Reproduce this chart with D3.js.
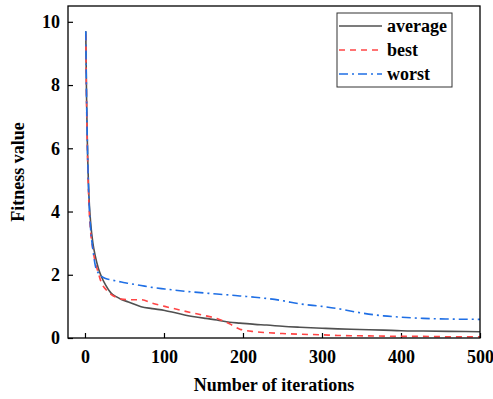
<!DOCTYPE html>
<html>
<head>
<meta charset="utf-8">
<script src="https://cdn.jsdelivr.net/npm/d3@7"></script>
<style>
  body { margin: 0; background: white; }
  svg text { font-family: "Liberation Serif", "Times New Roman", serif; font-weight: bold; }
</style>
</head>
<body>
<svg width="493" height="399"></svg>
<script>
// data
const iterations = [1, 2, 3, 5, 7, 10, 13, 17, 21, 26, 33, 40, 46, 55, 71, 85, 101, 126, 153, 167, 183, 196, 215, 230, 250, 272, 300, 320, 348, 378, 400, 428, 460, 500]
const average = [9.7, 7.6, 6.2, 4.5, 3.7, 3.0, 2.6, 2.2, 1.93, 1.68, 1.42, 1.3, 1.22, 1.14, 0.99, 0.93, 0.87, 0.73, 0.62, 0.57, 0.5, 0.47, 0.43, 0.41, 0.37, 0.34, 0.31, 0.29, 0.27, 0.25, 0.23, 0.22, 0.21, 0.2]
const best = [9.6, 7.4, 6.0, 4.2, 3.4, 2.8, 2.4, 2.05, 1.73, 1.55, 1.38, 1.28, 1.23, 1.21, 1.21, 1.1, 1.0, 0.85, 0.7, 0.62, 0.45, 0.28, 0.2, 0.17, 0.14, 0.12, 0.1, 0.08, 0.07, 0.06, 0.05, 0.05, 0.04, 0.04]
const worst = [9.7, 7.6, 6.2, 4.4, 3.5, 2.8, 2.3, 2.05, 1.95, 1.88, 1.84, 1.8, 1.77, 1.73, 1.66, 1.6, 1.55, 1.48, 1.42, 1.39, 1.36, 1.33, 1.29, 1.25, 1.18, 1.08, 1.0, 0.93, 0.8, 0.7, 0.66, 0.62, 0.6, 0.59]
const x_ticks = [0, 100, 200, 300, 400, 500]
const y_ticks = [0, 2, 4, 6, 8, 10]

const series = [
    { name: "average", values: average, color: "#505050", dash: null },
    { name: "best", values: best, color: "#ff4545", dash: "6,5" },
    { name: "worst", values: worst, color: "#1f6fe5", dash: "9,4,2,4" },
]

const margin = { left: 68, right: 13, top: 6, bottom: 61 }
const width = 493, height = 399

const svg = d3.select("svg")

// scales
const x = d3.scaleLinear()
    .domain([-21.5, 500])
    .range([margin.left, width - margin.right])
const y = d3.scaleLinear()
    .domain([0, 10.5])
    .range([height - margin.bottom, margin.top])

// axes with inward ticks
svg.append("g")
    .attr("transform", `translate(0,${height - margin.bottom})`)
    .call(d3.axisBottom(x).tickValues(x_ticks).tickSizeInner(-5).tickSizeOuter(0).tickPadding(10))
    .call(g => g.select(".domain").remove())
    .call(g => g.selectAll("text").attr("font-size", 18).attr("fill", "black").attr("dy", "0.85em"))
svg.append("g")
    .attr("transform", `translate(${margin.left},0)`)
    .call(d3.axisLeft(y).tickValues(y_ticks).tickSizeInner(-5).tickSizeOuter(0).tickPadding(8))
    .call(g => g.select(".domain").remove())
    .call(g => g.selectAll("text").attr("font-size", 18).attr("fill", "black"))
svg.selectAll(".tick line").attr("stroke", "black").attr("stroke-width", 1.2)

// lines
const line = d3.line()
    .x((d, i) => x(iterations[i]))
    .y(d => y(d))
    .curve(d3.curveMonotoneX)

svg.append("g")
    .selectAll("path")
    .data(series)
    .enter()
    .append("path")
    .attr("d", d => line(d.values))
    .attr("fill", "none")
    .attr("stroke", d => d.color)
    .attr("stroke-width", 1.6)
    .attr("stroke-dasharray", d => d.dash)

// frame
svg.append("rect")
    .attr("x", margin.left)
    .attr("y", margin.top)
    .attr("width", width - margin.left - margin.right)
    .attr("height", height - margin.top - margin.bottom)
    .attr("fill", "none")
    .attr("stroke", "black")
    .attr("stroke-width", 1.3)

// axis titles
svg.append("text")
    .attr("x", (margin.left + width - margin.right) / 2)
    .attr("y", 391)
    .attr("text-anchor", "middle")
    .attr("font-size", 18)
    .text("Number of iterations")
svg.append("text")
    .attr("transform", `translate(24,${(margin.top + height - margin.bottom) / 2}) rotate(-90)`)
    .attr("text-anchor", "middle")
    .attr("font-size", 18)
    .text("Fitness value")

// legend
const legend = svg.append("g")
legend.append("rect")
    .attr("x", 337).attr("y", 13)
    .attr("width", 115).attr("height", 74)
    .attr("fill", "white")
    .attr("stroke", "#333")
    .attr("stroke-width", 1)
const entry = legend.selectAll(".entry")
    .data(series)
    .enter()
    .append("g")
    .attr("transform", (d, i) => `translate(0,${26 + i * 24})`)
entry.append("line")
    .attr("x1", 339).attr("x2", 382)
    .attr("stroke", d => d.color)
    .attr("stroke-width", 1.6)
    .attr("stroke-dasharray", d => d.dash)
entry.append("text")
    .attr("x", 387)
    .attr("dy", "0.32em")
    .attr("font-size", 18)
    .text(d => d.name)
</script>
</body>
</html>
